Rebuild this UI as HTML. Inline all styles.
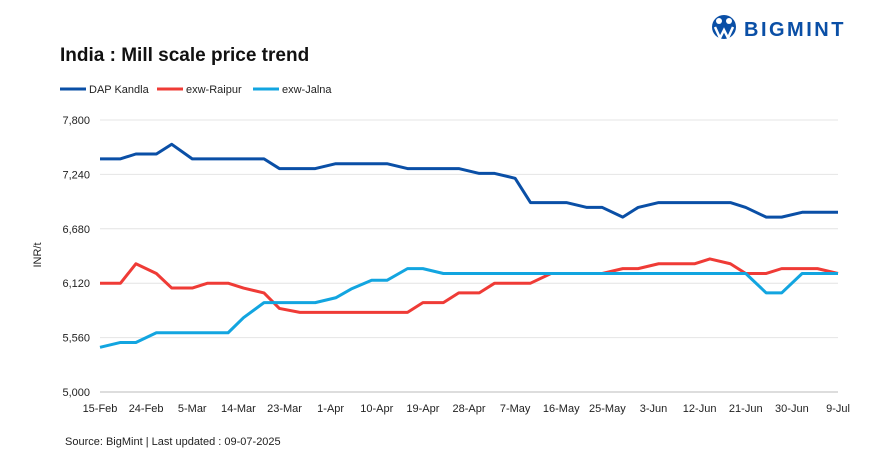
<!DOCTYPE html>
<html><head><meta charset="utf-8"><style>
body{margin:0;background:#fff;width:889px;height:466px;overflow:hidden;font-family:"Liberation Sans",Arial,sans-serif}
</style></head><body>
<svg id="chart" width="889" height="466" xmlns="http://www.w3.org/2000/svg" font-family="Liberation Sans, Arial, sans-serif">
<text x="60" y="61" font-size="19" font-weight="bold" fill="#111">India : Mill scale price trend</text>
<g>
<circle cx="724" cy="27" r="12" fill="#0a4fa6"/>
<circle cx="719" cy="21" r="3" fill="#fff"/><circle cx="729" cy="21" r="3" fill="#fff"/>
<path d="M715 27 L720 38 L724 30 L728 38 L733 27" stroke="#fff" stroke-width="2.5" fill="none"/>
<text x="744" y="36" font-size="20" font-weight="bold" fill="#0a4fa6" letter-spacing="2.5">BIGMINT</text>
</g>
<g id="legend" font-size="11" fill="#222"></g>
<g id="grid"></g><g id="axes"></g><g id="series"></g>
<text transform="translate(41,255) rotate(-90)" text-anchor="middle" font-size="11" fill="#222">INR/t</text>
<text x="65" y="445" font-size="11" fill="#222">Source: BigMint | Last updated : 09-07-2025</text>
</svg>
<script>
const yTicks=[5000,5560,6120,6680,7240,7800];
const xLabels=["15-Feb","24-Feb","5-Mar","14-Mar","23-Mar","1-Apr","10-Apr","19-Apr","28-Apr","7-May","16-May","25-May","3-Jun","12-Jun","21-Jun","30-Jun","9-Jul"];
const dapKandla=[7400,7400,7450,7450,7550,7400,7400,7400,7400,7400,7300,7300,7300,7350,7350,7350,7350,7300,7300,7300,7300,7250,7250,7200,6950,6950,6950,6900,6900,6800,6900,6950,6950,6950,6950,6950,6900,6800,6800,6850,6850,6850];
const exwRaipur=[6120,6120,6320,6220,6070,6070,6120,6120,6070,6020,5860,5820,5820,5820,5820,5820,5820,5820,5920,5920,6020,6020,6120,6120,6120,6220,6220,6220,6220,6270,6270,6320,6320,6320,6370,6320,6220,6220,6270,6270,6270,6220];
const exwJalna=[5460,5510,5510,5610,5610,5610,5610,5610,5765,5920,5920,5920,5920,5970,6060,6150,6150,6270,6270,6220,6220,6220,6220,6220,6220,6220,6220,6220,6220,6220,6220,6220,6220,6220,6220,6220,6220,6020,6020,6220,6220,6220];
const NS="http://www.w3.org/2000/svg";
const X0=100,X1=838,Y0=392,Y1=120,D=144;
const xDay=d=>X0+d/D*(X1-X0);
const dayOf=i=>Math.floor(i/2)*7+(i%2)*4;
const y=v=>Y0-(v-5000)/2800*(Y0-Y1);
function mk(t,a,p){const e=document.createElementNS(NS,t);for(const k in a)e.setAttribute(k,a[k]);document.getElementById(p).appendChild(e);return e;}
yTicks.forEach(v=>{
 const l=mk('line',{x1:X0,x2:X1,y1:y(v),y2:y(v),stroke:v===5000?'#bbb':'#e4e4e4','stroke-width':1},'grid');
 
 
 const t=mk('text',{x:90,y:y(v)+4,'text-anchor':'end','font-size':11,fill:'#222'},'axes');
 t.textContent=v.toLocaleString('en-US');
 
 
});
xLabels.forEach((s,i)=>{
 const t=mk('text',{x:xDay(i*9),y:412,'text-anchor':'middle','font-size':11,fill:'#222'},'axes');
 t.textContent=s;
 
 
});
const series=[["DAP Kandla",dapKandla,"#0a4fa6"],["exw-Raipur",exwRaipur,"#ef3b36"],["exw-Jalna",exwJalna,"#12a5e0"]];
series.forEach(([n,arr,c])=>{
 const p=mk('polyline',{points:arr.map((v,i)=>xDay(dayOf(i))+','+y(v)).join(' '),fill:'none',stroke:c,'stroke-width':3,'stroke-linejoin':'round'},'series');
 
 
});
const lx=[60,157,253];
series.forEach(([n,arr,c],i)=>{
 const l=mk('line',{x1:lx[i],x2:lx[i]+26,y1:89,y2:89,stroke:c,'stroke-width':3},'legend');
 
 
 const t=mk('text',{x:lx[i]+29,y:93},'legend');
 t.textContent=n;
 
 
});
</script>
</body></html>
